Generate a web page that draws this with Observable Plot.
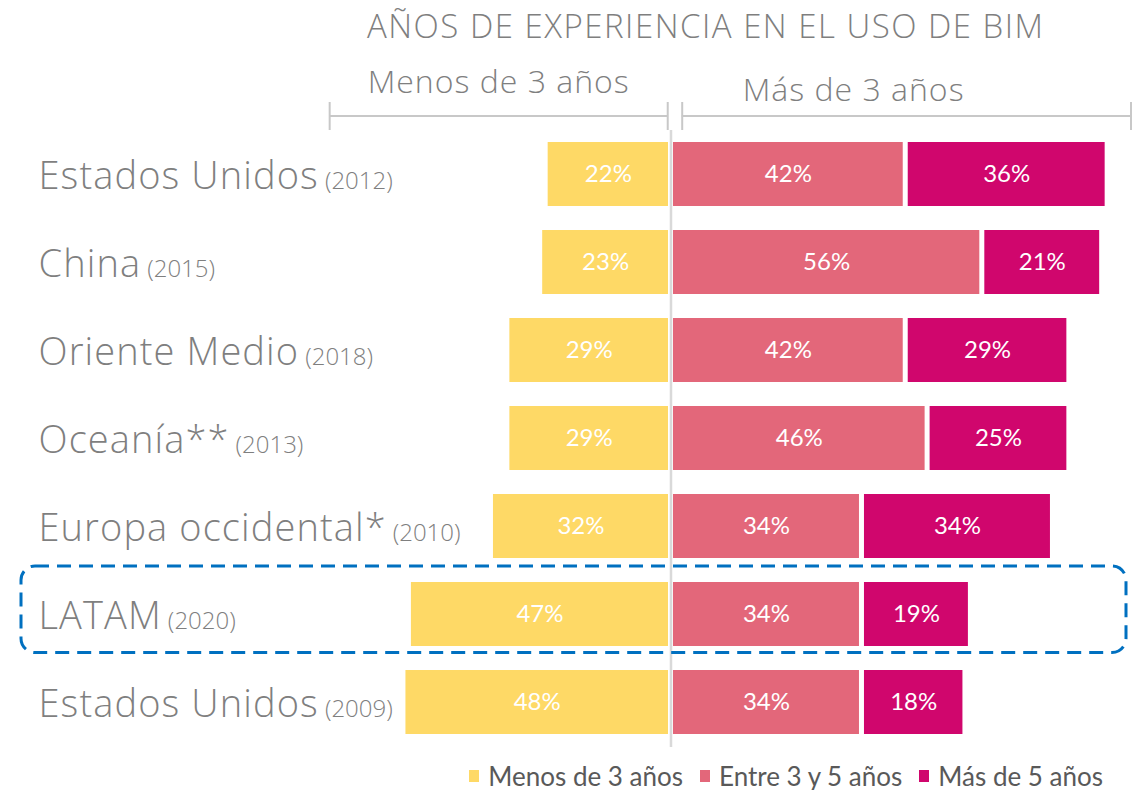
<!DOCTYPE html>
<html><head><meta charset="utf-8">
<script src="https://cdn.jsdelivr.net/npm/d3@7"></script>
<script src="https://cdn.jsdelivr.net/npm/@observablehq/plot@0.6"></script>
<style>
body{margin:0;background:#fff;width:1142px;overflow:hidden}
#title{height:50px;line-height:52px;padding-left:367px;font-family:"Open Sans";font-weight:300;font-size:33px;letter-spacing:1.5px;color:#7f7f7f;white-space:nowrap}
#header svg,#chart svg{display:block}
#legend{display:flex;justify-content:flex-end;padding-right:39px;font-family:Lato;font-size:26px;line-height:28px;color:#595959;height:28px;align-items:center;margin-top:10px}
.item{display:flex;align-items:center;margin-left:17px}
.sw{width:10px;height:12px;margin-right:9px}
</style></head><body>
<div id="title">AÑOS DE EXPERIENCIA EN EL USO DE BIM</div>
<div id="header"></div><div id="chart"></div><div id="legend"></div>
<script>
const paises = ["Estados Unidos","China","Oriente Medio","Oceanía**","Europa occidental*","LATAM","Estados Unidos"];
const anios = ["2012","2015","2018","2013","2010","2020","2009"];
const menos3 = [22,23,29,29,32,47,48];
const entre3y5 = [42,56,42,46,34,34,34];
const mas5 = [36,21,29,25,34,19,18];
const series = ["Menos de 3 años","Entre 3 y 5 años","Más de 5 años"];
const colores = ["#FED966","#E3677A","#D0066D"];
const encabezados = ["Menos de 3 años","Más de 3 años"];
const tramos = [[-62.4,-0.6],[2.05,84.1]];
const destacado = "LATAM";

const filas = paises.map((p,i)=>({clave:p+" ("+anios[i]+")",pais:p,anio:anios[i],menos:menos3[i],entre:entre3y5[i],mas:mas5[i]}));
const xDomain = [-122.58, 86.2];
const gris = "#7f7f7f";
const fLight = "'Open Sans', Lato, sans-serif";
const fBar = "Lato, 'Open Sans', sans-serif";

const header = Plot.plot({
  width:1142, height:80, marginTop:0, marginBottom:0, marginLeft:0, marginRight:0,
  x:{domain:xDomain, axis:null},
  style:{background:"transparent"},
  marks:[
    Plot.barX(tramos, {x1:d=>d[0], x2:d=>d[1], fill:"#c8c8c8", insetTop:65, insetBottom:13}),
    Plot.ruleX(tramos.flat(), {stroke:"#c8c8c8", strokeWidth:2, insetTop:52}),
    Plot.text([encabezados[0]], {x:(tramos[0][0]+tramos[0][1])/2, text:d=>d, frameAnchor:"top", lineAnchor:"middle", dy:32, fontSize:32, fontWeight:300, fontFamily:fLight, fill:gris}),
    Plot.text([encabezados[1]], {x:(tramos[1][0]+tramos[1][1])/2, text:d=>d, frameAnchor:"top", lineAnchor:"middle", dy:40, dx:-53, fontSize:32, fontWeight:300, fontFamily:fLight, fill:gris})
  ]
});
d3.select(header).selectAll("text").attr("letter-spacing", "1px");
document.getElementById("header").append(header);

const main = Plot.plot({
  width:1142, height:622, marginTop:0, marginBottom:5, marginLeft:0, marginRight:0,
  x:{domain:xDomain, axis:null},
  y:{domain:filas.map(d=>d.clave), axis:null, paddingInner:0.2727, paddingOuter:0.142, align:0.5},
  style:{background:"transparent"},
  marks:[
    Plot.ruleX([0], {stroke:"#d9d9d9", strokeWidth:2.5}),
    Plot.barX(filas, {y:"clave", x1:d=>-d.menos, x2:0, fill:colores[0], dx:-2.5}),
    Plot.barX(filas, {y:"clave", x1:0, x2:"entre", fill:colores[1], dx:2.5}),
    Plot.barX(filas, {y:"clave", x1:"entre", x2:d=>d.entre+d.mas, fill:colores[2], dx:7.5}),
    Plot.text(filas, {y:"clave", x:d=>-d.menos/2, text:d=>d.menos+"%", dx:-2.5, fill:"white", fontSize:24, fontFamily:fBar}),
    Plot.text(filas, {y:"clave", x:d=>d.entre/2, text:d=>d.entre+"%", dx:2.5, fill:"white", fontSize:24, fontFamily:fBar}),
    Plot.text(filas, {y:"clave", x:d=>d.entre+d.mas/2, text:d=>d.mas+"%", dx:7.5, fill:"white", fontSize:24, fontFamily:fBar}),
    Plot.barX(filas.filter(d=>d.pais===destacado), {y:"clave", x1:()=>xDomain[0], x2:()=>xDomain[1], insetLeft:21, insetRight:16, insetTop:-16, insetBottom:-6.5, rx:14, fill:"none", stroke:"#0070C0", strokeWidth:3, strokeDasharray:"14 8"}),
    Plot.text(filas, {y:"clave", text:"pais", frameAnchor:"left", dx:38, dy:2, textAnchor:"start", fontSize:38, fontWeight:300, fontFamily:fLight, fill:gris})
  ]
});
const nombres = new Set(paises);
let k = 0;
d3.select(main).selectAll("text").each(function(){
  if (k < anios.length && nombres.has(this.textContent)) {
    const t = d3.select(this);
    const nombre = this.textContent;
    t.text(null);
    t.append("tspan").attr("letter-spacing", "1.1px").text(nombre);
    t.append("tspan").attr("font-size", 24).attr("dx", 6).text("(" + anios[k] + ")");
    k++;
  }
});
document.getElementById("chart").append(main);

const leg = d3.select("#legend");
series.forEach((s,i)=>{
  const it = leg.append("div").attr("class","item");
  it.append("span").attr("class","sw").style("background",colores[i]);
  it.append("span").text(s);
});
</script>
</body></html>
